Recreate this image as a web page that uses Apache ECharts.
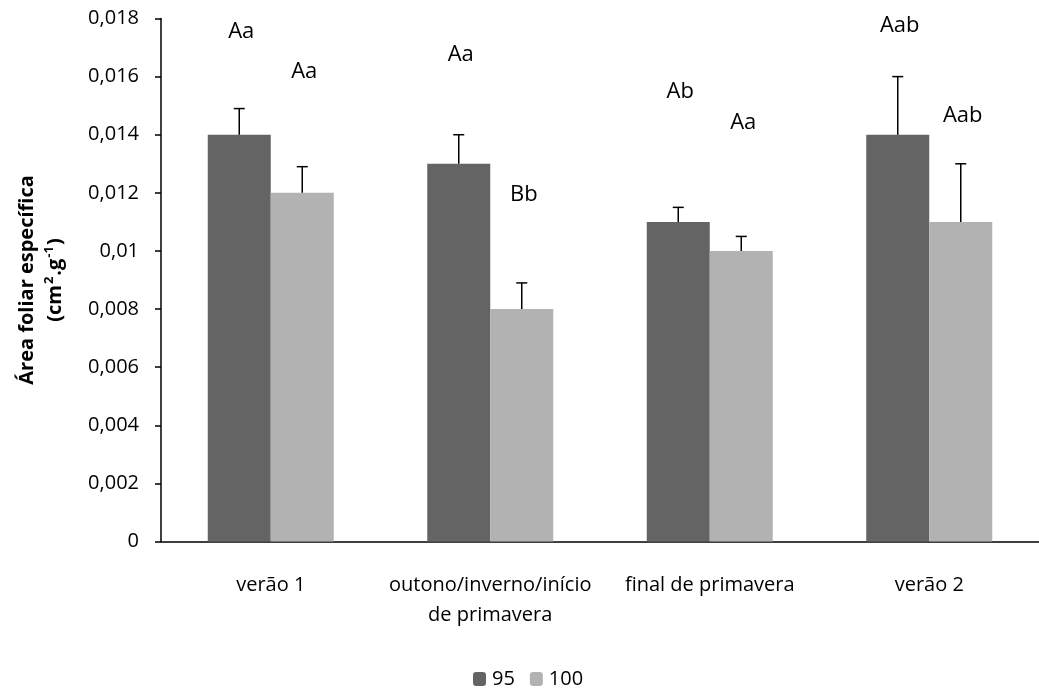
<!DOCTYPE html>
<html>
<head>
<meta charset="utf-8">
<script src="https://cdn.jsdelivr.net/npm/echarts@6/dist/echarts.min.js"></script>
<style>
  html, body { margin: 0; padding: 0; background: #fff; }
  #chart { width: 1039px; height: 692px; }
</style>
</head>
<body>
<div id="chart"></div>
<script>
// Seasons on the category axis
const categories = ['verão 1', 'outono/inverno/início\nde primavera', 'final de primavera', 'verão 2'];
// Series names (legend)
const seriesNames = ['95', '100'];
// Mean specific leaf area (cm².g⁻¹)
const values95 = [0.014, 0.013, 0.011, 0.014];
const values100 = [0.012, 0.008, 0.010, 0.011];
// Standard error (upper whisker length)
const err95 = [0.0009, 0.0010, 0.0005, 0.0020];
const err100 = [0.0009, 0.0009, 0.0005, 0.0020];
// Significance letters and the height they are written at
const letters95 = ['Aa', 'Aa', 'Ab', 'Aab'];
const letters100 = ['Aa', 'Bb', 'Aa', 'Aab'];
const letterY95 = [0.01754, 0.01675, 0.01547, 0.01774];
const letterY100 = [0.01616, 0.01193, 0.01440, 0.01464];
// Y-axis ticks
const yMin = 0, yMax = 0.018, yStep = 0.002;

const FONT = '"Open Sans", "Noto Sans", sans-serif';
const DARK = '#646464';
const LIGHT = '#b2b2b2';
const BAR_W = 63;

const chart = echarts.init(document.getElementById('chart'), null, { renderer: 'canvas' });

function errorSeries(values, errs, offsetSign) {
  return {
    type: 'custom',
    silent: true,
    z: 5,
    data: values.map((v, i) => [i, v, v + errs[i]]),
    renderItem(params, api) {
      const base = api.coord([api.value(0), api.value(1)]);
      const top = api.coord([api.value(0), api.value(2)]);
      const x = base[0] + offsetSign * BAR_W / 2;
      const style = { stroke: '#000', lineWidth: 1.5 };
      return {
        type: 'group',
        children: [
          { type: 'line', shape: { x1: x, y1: base[1], x2: x, y2: top[1] }, style },
          { type: 'line', shape: { x1: x - 5.5, y1: top[1], x2: x + 5.5, y2: top[1] }, style }
        ]
      };
    }
  };
}

function letterSeries(letters, heights, offsetSign) {
  return {
    type: 'custom',
    silent: true,
    z: 6,
    data: heights.map((h, i) => [i, h]),
    renderItem(params, api) {
      const p = api.coord([api.value(0), api.value(1)]);
      return {
        type: 'text',
        x: p[0] + offsetSign * BAR_W / 2 + 2,
        y: p[1],
        style: {
          text: letters[params.dataIndex],
          fontFamily: FONT,
          fontSize: 22,
          fill: '#000',
          align: 'center',
          verticalAlign: 'middle'
        }
      };
    }
  };
}

chart.setOption({
  animation: false,
  backgroundColor: '#fff',
  grid: { left: 161, top: 18.5, width: 888, height: 523 },
  legend: {
    data: seriesNames,
    left: 468,
    top: 664,
    itemWidth: 13,
    itemHeight: 14,
    itemGap: 15,
    textStyle: { fontFamily: FONT, fontSize: 20, color: '#000', padding: [0, 0, 0, 1] }
  },
  xAxis: {
    type: 'category',
    data: categories,
    axisLine: { lineStyle: { color: '#000', width: 1.5 } },
    axisTick: { length: 7, lineStyle: { color: '#000', width: 1.5 } },
    axisLabel: {
      fontFamily: FONT, fontSize: 20, color: '#000', margin: 29, lineHeight: 30,
      interval: 0
    }
  },
  yAxis: {
    type: 'value',
    min: yMin, max: yMax, interval: yStep,
    splitLine: { show: false },
    axisLine: { show: true, lineStyle: { color: '#000', width: 1.5 } },
    axisTick: { show: true, length: 6, lineStyle: { color: '#000', width: 1.5 } },
    axisLabel: {
      fontFamily: FONT, fontSize: 20, color: '#000', margin: 22,
      formatter: v => v === 0 ? '0' : String(+v.toFixed(6)).replace('.', ',')
    },
    name: '{t|Área foliar específica}\n{t|(cm}{s|2}{t|.g}{s|-1}{t|)}',
    nameLocation: 'middle',
    nameRotate: 90,
    nameGap: 92,
    nameTextStyle: {
      fontFamily: FONT,
      rich: {
        t: { fontFamily: FONT, fontSize: 20, fontWeight: 'bold', color: '#000', lineHeight: 28 },
        s: { fontFamily: FONT, fontSize: 13, fontWeight: 'bold', color: '#000', lineHeight: 28, verticalAlign: 'top', padding: [2, 1, 0, 1] }
      }
    }
  },
  series: [
    {
      name: seriesNames[0], type: 'bar', data: values95, barWidth: BAR_W, barGap: '0%',
      itemStyle: { color: DARK }
    },
    {
      name: seriesNames[1], type: 'bar', data: values100, barWidth: BAR_W, barGap: '0%',
      itemStyle: { color: LIGHT }
    },
    errorSeries(values95, err95, -1),
    errorSeries(values100, err100, 1),
    letterSeries(letters95, letterY95, -1),
    letterSeries(letters100, letterY100, 1)
  ]
});
</script>
</body>
</html>
